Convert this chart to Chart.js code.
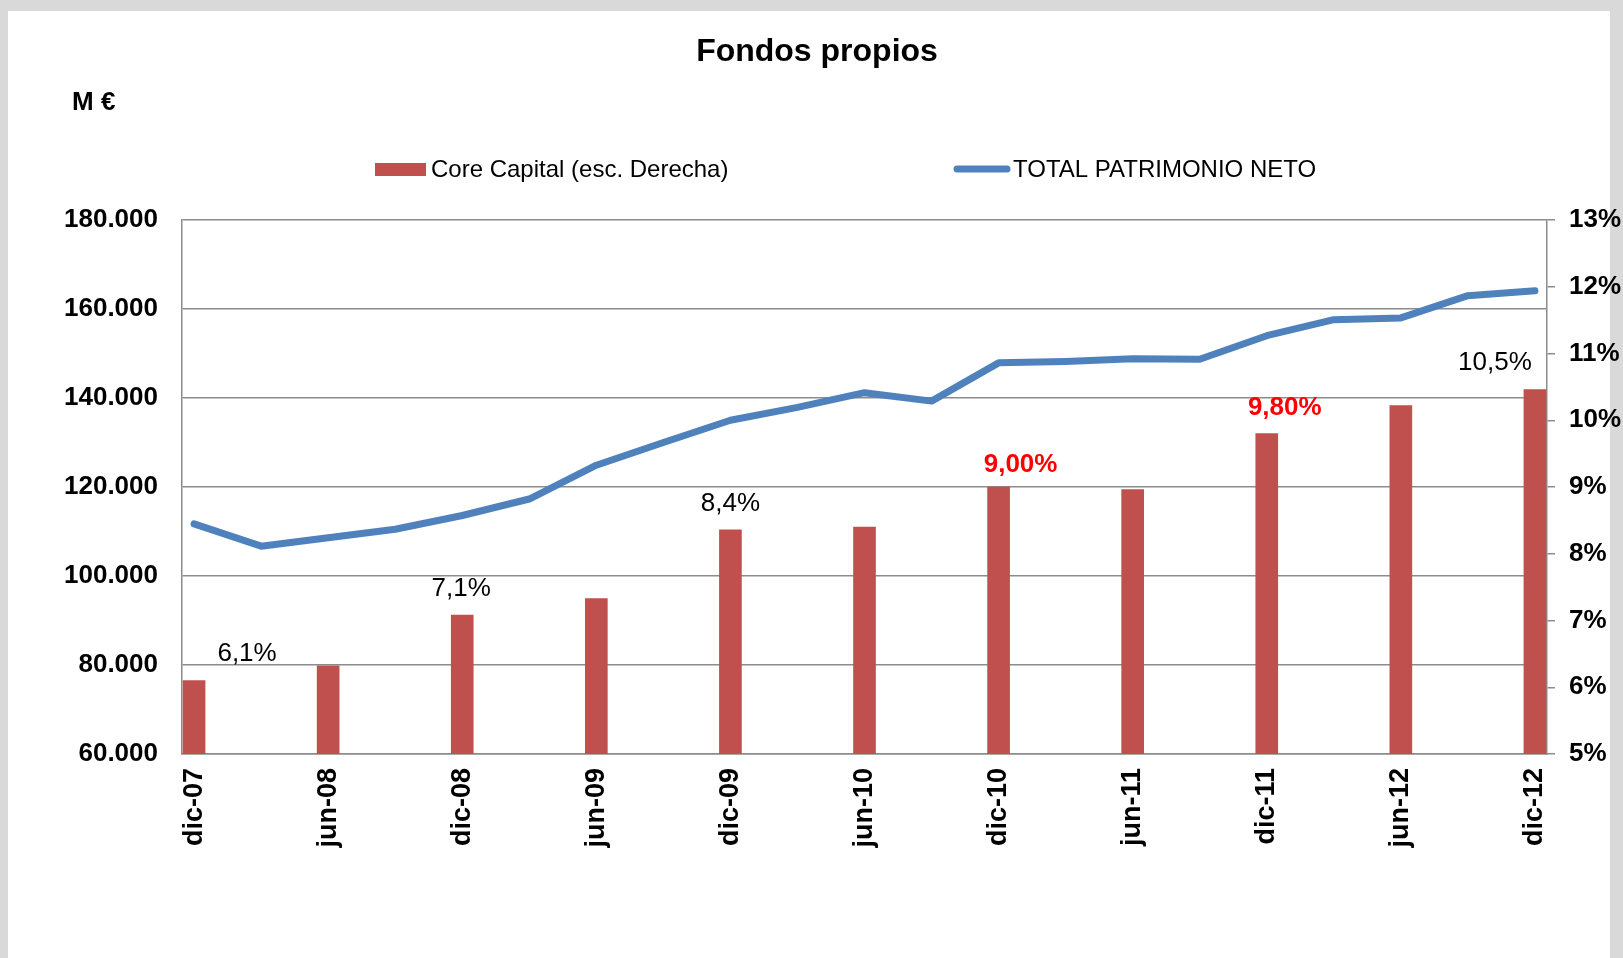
<!DOCTYPE html>
<html lang="es">
<head>
<meta charset="utf-8">
<title>Fondos propios</title>
<script src="https://cdn.jsdelivr.net/npm/chart.js@4.4.1/dist/chart.umd.min.js"></script>
<style>
  html, body { margin: 0; padding: 0; background: #d9d9d9; overflow: hidden; }
  #wrap { width: 1623px; height: 958px; }
</style>
</head>
<body>
<div id="wrap"><canvas id="fondosChart" width="1623" height="958"></canvas></div>
<script>
// quarterly periods (line) - only semiannual ones are labelled / have bars
const quarters = ['dic-07', 'mar-08', 'jun-08', 'sep-08', 'dic-08', 'mar-09', 'jun-09', 'sep-09',
                  'dic-09', 'mar-10', 'jun-10', 'sep-10', 'dic-10', 'mar-11', 'jun-11', 'sep-11',
                  'dic-11', 'mar-12', 'jun-12', 'sep-12', 'dic-12'];
const patrimonioNeto = [111700, 106700, 108600, 110500, 113600, 117300, 124900, 130000,
                        135000, 137900, 141200, 139300, 147900, 148200, 148800, 148700,
                        154000, 157600, 158000, 163000, 164100];

const capitalDates = ['dic-07', 'jun-08', 'dic-08', 'jun-09', 'dic-09', 'jun-10',
                      'dic-10', 'jun-11', 'dic-11', 'jun-12', 'dic-12'];
const coreCapital = [6.10, 6.32, 7.08, 7.33, 8.36, 8.40, 9.00, 8.96, 9.80, 10.22, 10.46];
const capitalLabels = ['6,1%', '', '7,1%', '', '8,4%', '', '9,00%', '', '9,80%', '', '10,5%'];

const FONT = '"Liberation Sans", Arial, sans-serif';
const GRID = '#8c8c8c';

function thousands(v) {
    return v.toString().replace(/\B(?=(\d{3})+(?!\d))/g, '.');
}

// background, title, legend and bar labels
const decorations = {
    id: 'decorations',
    beforeDraw(chart) {
        const ctx = chart.ctx;
        ctx.save();
        ctx.fillStyle = '#d9d9d9';
        ctx.fillRect(0, 0, chart.width, chart.height);
        ctx.fillStyle = '#ffffff';
        ctx.fillRect(8, 11, 1602, chart.height - 11);
        ctx.restore();
    },
    afterDraw(chart) {
        const ctx = chart.ctx;
        ctx.save();
        ctx.fillStyle = '#000';
        ctx.textBaseline = 'middle';

        ctx.font = 'bold 32px ' + FONT;
        ctx.textAlign = 'center';
        ctx.fillText('Fondos propios', 817, 52);

        ctx.font = 'bold 26px ' + FONT;
        ctx.textAlign = 'left';
        ctx.fillText('M \u20ac', 72, 103);

        // legend
        ctx.fillStyle = '#c0504d';
        ctx.fillRect(375, 163, 51, 13);
        ctx.strokeStyle = '#4f81bd';
        ctx.lineWidth = 7;
        ctx.lineCap = 'round';
        ctx.beginPath();
        ctx.moveTo(957, 169);
        ctx.lineTo(1007, 169);
        ctx.stroke();
        ctx.fillStyle = '#000';
        ctx.font = '24px ' + FONT;
        ctx.fillText('Core Capital (esc. Derecha)', 431, 170);
        ctx.fillText('TOTAL PATRIMONIO NETO', 1013, 170);

        // labels over the bars
        const offsets = [[53, -27], null, [-1, -26], null, [0, -26], null,
                         [22, -22], null, [18, -26], null, [-40, -27]];
        const highlight = [6, 8];
        const bars = chart.getDatasetMeta(1).data;
        ctx.textAlign = 'center';
        capitalLabels.forEach((txt, i) => {
            if (!txt) return;
            const bar = bars[i];
            const [dx, dy] = offsets[i];
            if (highlight.includes(i)) {
                ctx.font = 'bold 26px ' + FONT;
                ctx.fillStyle = '#ff0000';
            } else {
                ctx.font = '26px ' + FONT;
                ctx.fillStyle = '#000';
            }
            ctx.fillText(txt, bar.x + dx, bar.y + dy);
        });
        ctx.restore();
    }
};

const ctx = document.getElementById('fondosChart').getContext('2d');
new Chart(ctx, {
    type: 'bar',
    data: {
        datasets: [{
            type: 'line',
            label: 'TOTAL PATRIMONIO NETO',
            data: patrimonioNeto.map((v, i) => ({ x: i, y: v })),
            borderColor: '#4f81bd',
            borderWidth: 7,
            borderCapStyle: 'round',
            borderJoinStyle: 'round',
            pointRadius: 0,
            tension: 0,
            yAxisID: 'y',
            order: 0
        }, {
            type: 'bar',
            label: 'Core Capital (esc. Derecha)',
            data: coreCapital.map((v, i) => ({ x: quarters.indexOf(capitalDates[i]), y: v })),
            backgroundColor: '#c0504d',
            barThickness: 22,
            yAxisID: 'yR',
            order: 1
        }]
    },
    options: {
        responsive: false,
        animation: false,
        devicePixelRatio: 1,
        layout: { padding: { top: 220, left: 0, right: 0, bottom: 0 } },
        plugins: {
            legend: { display: false },
            tooltip: { enabled: false },
            title: { display: false }
        },
        scales: {
            x: {
                type: 'linear',
                offset: false,
                min: -0.18,
                max: 20.18,
                grid: { display: false, drawTicks: false, offset: false },
                border: { display: true, color: GRID, width: 1.5 },
                afterBuildTicks(scale) {
                    scale.ticks = capitalDates.map(d => ({ value: quarters.indexOf(d) }));
                },
                afterFit(scale) { scale.height = 958 - 754; },
                ticks: {
                    autoSkip: false,
                    minRotation: 90,
                    maxRotation: 90,
                    padding: 14,
                    color: '#000',
                    font: { family: FONT, size: 27, weight: 'bold' },
                    callback: (v) => quarters[v]
                }
            },
            y: {
                position: 'left',
                min: 60000,
                max: 180000,
                grid: { color: GRID, lineWidth: 1.5, drawTicks: false },
                border: { display: true, color: GRID, width: 1.5 },
                afterFit(scale) { scale.width = 182; },
                ticks: {
                    stepSize: 20000,
                    padding: 24,
                    color: '#000',
                    font: { family: FONT, size: 26, weight: 'bold' },
                    callback: (v) => thousands(v)
                }
            },
            yR: {
                position: 'right',
                min: 5,
                max: 13,
                grid: { drawOnChartArea: false, drawTicks: true, tickLength: 8, color: GRID, lineWidth: 1.5 },
                border: { display: true, color: GRID, width: 1.5 },
                afterFit(scale) { scale.width = 1623 - 1547; },
                ticks: {
                    stepSize: 1,
                    padding: 14,
                    color: '#000',
                    font: { family: FONT, size: 26, weight: 'bold' },
                    callback: (v) => v + '%'
                }
            }
        }
    },
    plugins: [decorations]
});
</script>
</body>
</html>
